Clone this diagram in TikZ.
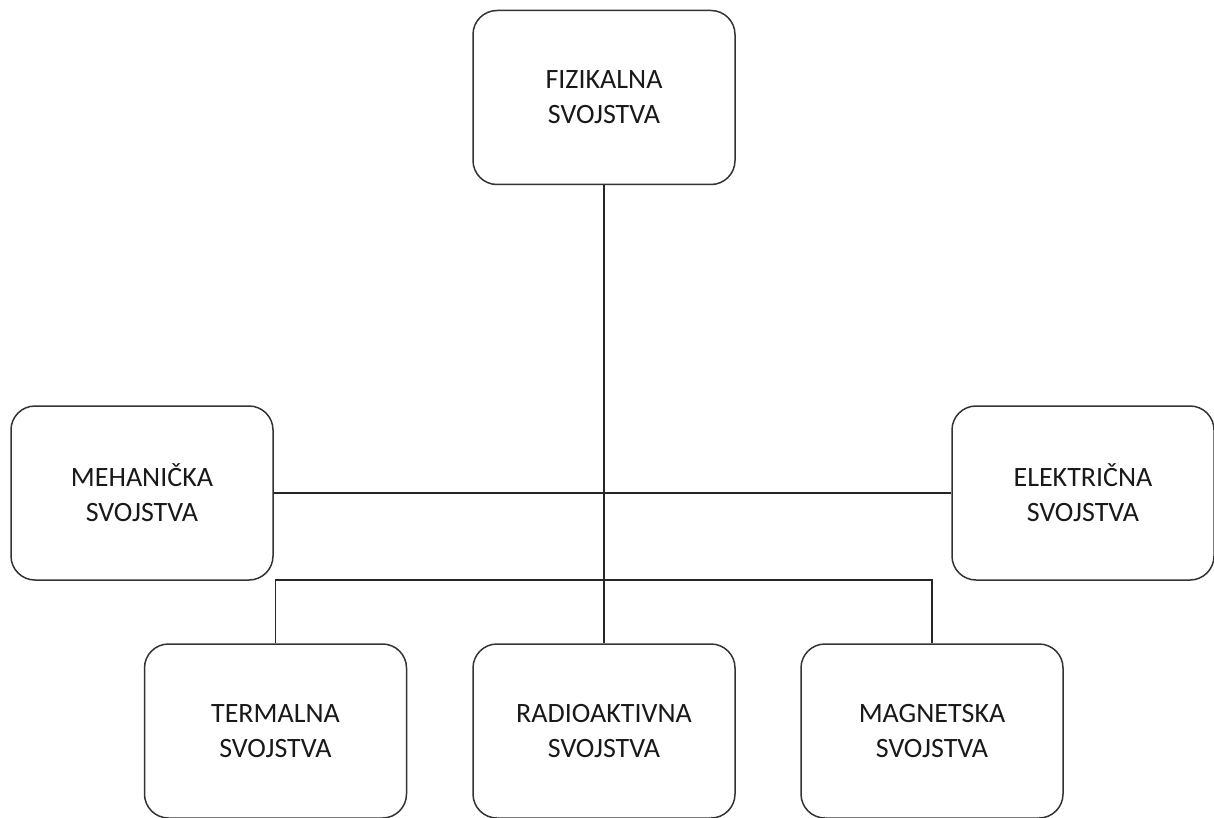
\documentclass[tikz,border=0pt]{standalone}
\usepackage{fontspec}
\setmainfont{Carlito}
\usetikzlibrary{shapes.geometric}
\tikzstyle{svojstvo} = [rectangle, rounded corners=12pt, minimum width=131pt, minimum height=87pt, text centered, align=center, draw=black!80, line width=0.75pt, font=\fontsize{14pt}{17.5pt}\selectfont, text=black!90]
\tikzstyle{veza} = [line width=0.75pt, draw=black!85]

\begin{document}
\begin{tikzpicture}[x=0.5pt, y=-0.5pt]
\useasboundingbox (0,0) rectangle (1214,818);
\node (fizikalna) [svojstvo] at (604,97.5) {FIZIKALNA\\SVOJSTVA};
\node (mehanicka) [svojstvo] at (142,493) {MEHANIČKA\\SVOJSTVA};
\node (elektricna) [svojstvo] at (1083,493) {ELEKTRIČNA\\SVOJSTVA};
\node (termalna) [svojstvo] at (275.5,731) {TERMALNA\\SVOJSTVA};
\node (radioaktivna) [svojstvo] at (604,731) {RADIOAKTIVNA\\SVOJSTVA};
\node (magnetska) [svojstvo] at (932,731) {MAGNETSKA\\SVOJSTVA};
\coordinate (razvod) at (604,580);

\draw [veza] (fizikalna) -- (radioaktivna);
\draw [veza] (mehanicka) -- (elektricna);
\draw [veza] (termalna.north) |- (razvod) -| (magnetska.north);

\end{tikzpicture}
\end{document}
